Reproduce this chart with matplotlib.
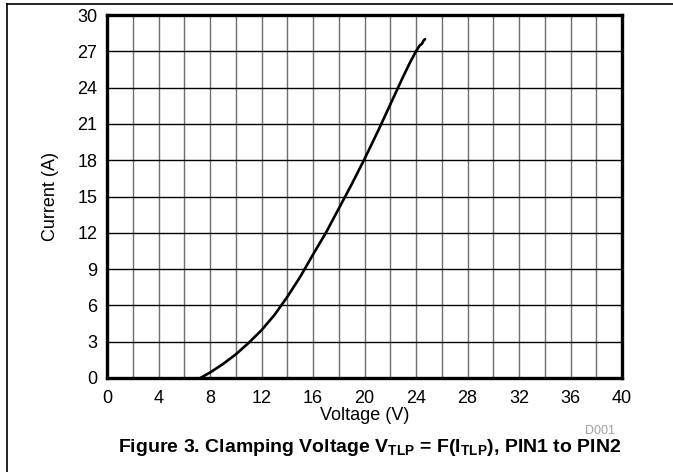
import matplotlib
matplotlib.use('Agg')
import matplotlib.pyplot as plt
from matplotlib.lines import Line2D

plt.rcParams['font.family'] = ['Liberation Sans', 'DejaVu Sans']
plt.rcParams['mathtext.fontset'] = 'custom'
plt.rcParams['mathtext.rm'] = 'Liberation Sans'
plt.rcParams['mathtext.bf'] = 'Liberation Sans:bold'

# clamping curve
voltage = [7.25, 8, 9, 10, 11, 12, 13, 14, 15, 16, 17, 18, 19, 20, 21, 22, 23, 23.5, 24.0, 24.3, 24.45, 24.6, 24.7]
current = [0, 0.45, 1.15, 1.95, 2.9, 3.95, 5.2, 6.7, 8.35, 10.2, 12.0, 14.0, 16.0, 18.1, 20.3, 22.6, 24.9, 26.0, 27.0, 27.5, 27.6, 27.9, 28.0]

x_ticks = [0, 4, 8, 12, 16, 20, 24, 28, 32, 36, 40]
y_ticks = [0, 3, 6, 9, 12, 15, 18, 21, 24, 27, 30]

fig = plt.figure(figsize=(6.73, 4.72), dpi=100)
ax = fig.add_axes([107/673, 1 - 378/472, (622 - 107)/673, (378 - 15)/472])

ax.plot(voltage, current, color='black', lw=1.9, solid_capstyle='round', zorder=3)

ax.set_xlim(0, 40)
ax.set_ylim(0, 30)
ax.set_xticks(x_ticks)
ax.set_yticks(y_ticks)
ax.tick_params(which='both', length=0, labelsize=13)
ax.tick_params(axis='x', pad=8.5)
ax.tick_params(axis='y', pad=7)

for x in range(2, 40, 2):
    ax.axvline(x, color='#6e6e6e', lw=1.0, zorder=1)
for y in y_ticks[1:-1]:
    ax.axhline(y, color='black', lw=1.0, zorder=1)

for s in ax.spines.values():
    s.set_linewidth(2.4)
    s.set_color('black')

ax.set_xlabel('Voltage (V)', fontsize=13, labelpad=0)
ax.set_ylabel('Current (A)', fontsize=13, labelpad=13)

fig.text(600/673, 1 - 431/472, 'D001', fontsize=9, color='#a0a0a0', ha='center', va='center')
fig.text(370/673, 1 - 448/472,
         r'Figure 3. Clamping Voltage $\mathbf{V_{TLP}}$ = F(I$_{\mathbf{TLP}}$), PIN1 to PIN2',
         fontsize=14, fontweight='bold', ha='center', va='center')

# page frame lines
fig.add_artist(Line2D([7/673, 1], [1 - 4/472, 1 - 4/472], color='black', lw=1.2, transform=fig.transFigure))
fig.add_artist(Line2D([7/673, 7/673], [0, 1 - 4/472], color='black', lw=1.2, transform=fig.transFigure))

fig.savefig('out.png', dpi=100)
